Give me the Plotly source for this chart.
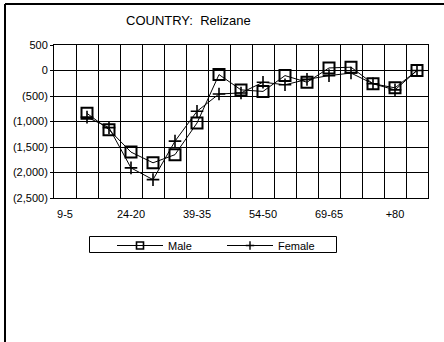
import plotly.graph_objects as go

# Age groups (one slot per gridline cell)
age_groups = ["9-5", "14-10", "19-15", "24-20", "29-25", "34-30", "39-35",
              "44-40", "49-45", "54-50", "59-55", "64-60", "69-65", "74-70",
              "79-75", "+80", "+85"]
# Only every third group is labelled on the axis
tick_labels = ["9-5", "", "", "24-20", "", "", "39-35", "", "", "54-50",
               "", "", "69-65", "", "", "+80", ""]

male = [None, -840, -1160, -1600, -1810, -1650, -1030, -80, -380, -410,
        -100, -230, 50, 65, -260, -340, 0]
female = [None, -915, -1120, -1910, -2140, -1385, -800, -460, -440, -230,
          -280, -175, -100, -50, -260, -380, 0]

y_ticks = [500, 0, -500, -1000, -1500, -2000, -2500]
y_tick_text = ["500", "0", "(500)", "(1,000)", "(1,500)", "(2,000)", "(2,500)"]

W, H = 444, 342
L, R, T, B = 54, 16, 45, 144
pw, ph = W - L - R, H - T - B


def px_x(x):
    return (x - L) / pw


def px_y(y):
    return (H - B - y) / ph


male_marker = dict(symbol="square-open", size=11, color="black",
                   line=dict(width=2, color="black"))
female_marker = dict(symbol="cross-thin", size=9, color="black",
                     line=dict(width=1.6, color="black"))

fig = go.Figure()
fig.add_trace(go.Scatter(
    x=age_groups, y=male, name="Male", mode="lines+markers",
    line=dict(color="black", width=1), marker=male_marker,
    showlegend=False,
))
fig.add_trace(go.Scatter(
    x=age_groups, y=female, name="Female", mode="lines+markers",
    line=dict(color="black", width=1), marker=female_marker,
    showlegend=False,
))
# Legend keys with smaller symbols
fig.add_trace(go.Scatter(
    x=[None], y=[None], name="Male", mode="lines+markers",
    line=dict(color="black", width=1),
    marker=dict(symbol="square-open", size=7, color="black",
                line=dict(width=1.6, color="black")),
))
fig.add_trace(go.Scatter(
    x=[None], y=[None], name="Female", mode="lines+markers",
    line=dict(color="black", width=1),
    marker=dict(symbol="cross-thin", size=6, color="black",
                line=dict(width=1.4, color="black")),
))

fig.update_layout(
    width=W, height=H,
    margin=dict(l=L, r=R, t=T, b=B, pad=0),
    paper_bgcolor="white", plot_bgcolor="white",
    font=dict(family="Liberation Sans, Arial, sans-serif", size=11, color="black"),
    showlegend=True,
    legend=dict(
        orientation="h", x=px_x(112), y=px_y(231), xanchor="left", yanchor="top",
        borderwidth=0, bgcolor="rgba(0,0,0,0)",
        font=dict(size=11), entrywidth=49, entrywidthmode="pixels",
        itemwidth=46, tracegroupgap=0,
    ),
    xaxis=dict(
        type="category", tickmode="array", tickvals=age_groups, ticktext=tick_labels,
        tickson="boundaries", ticks="", showgrid=True, gridcolor="black", gridwidth=1,
        showline=True, linecolor="black", linewidth=1, mirror=True, tickangle=0,
        range=[-0.5, len(age_groups) - 0.5], ticklabelstandoff=6, zeroline=False,
    ),
    yaxis=dict(
        range=[-2500, 500], tickmode="array", tickvals=y_ticks, ticktext=y_tick_text,
        showgrid=True, gridcolor="black", gridwidth=1, zeroline=False,
        showline=True, linecolor="black", linewidth=1, mirror=True,
        ticks="outside", ticklen=3, tickcolor="black",
    ),
    shapes=[
        dict(type="line", xref="paper", yref="paper", x0=px_x(5), x1=px_x(W + 5),
             y0=px_y(4), y1=px_y(4), line=dict(color="black", width=2)),
        dict(type="line", xref="paper", yref="paper", x0=px_x(5), x1=px_x(5),
             y0=px_y(4), y1=px_y(H + 5), line=dict(color="black", width=2)),
        # legend frame
        dict(type="rect", xref="paper", yref="paper", x0=px_x(89.5), x1=px_x(336.5),
             y0=px_y(236.5), y1=px_y(252.5), line=dict(color="black", width=1),
             fillcolor="white", layer="below"),
    ],
    annotations=[
        dict(text="COUNTRY:  Relizane", xref="paper", yref="paper",
             x=px_x(188), y=px_y(21), xanchor="center", yanchor="middle",
             showarrow=False, font=dict(size=13)),
    ],
)

fig.write_html("out.html")
